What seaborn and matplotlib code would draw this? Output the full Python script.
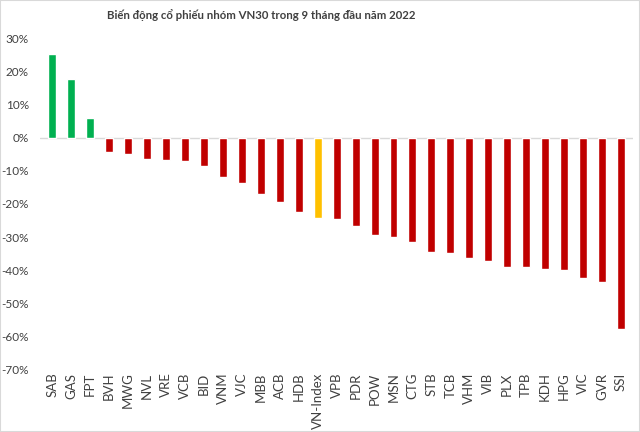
import matplotlib
matplotlib.use("Agg")
import matplotlib.pyplot as plt
import seaborn as sns
import pandas as pd
from matplotlib.ticker import FuncFormatter

tickers = ["SAB", "GAS", "FPT", "BVH", "MWG", "NVL", "VRE", "VCB", "BID", "VNM",
           "VJC", "MBB", "ACB", "HDB", "VN-Index", "VPB", "PDR", "POW", "MSN", "CTG",
           "STB", "TCB", "VHM", "VIB", "PLX", "TPB", "KDH", "HPG", "VIC", "GVR", "SSI"]
changes = [25.3, 17.6, 6.0, -4.3, -5.1, -6.6, -6.9, -7.0, -8.6, -11.9,
           -13.6, -16.9, -19.5, -22.3, -24.3, -24.4, -26.8, -29.4, -29.9, -31.6,
           -34.6, -34.9, -36.4, -37.3, -38.9, -39.1, -39.6, -39.8, -42.2, -43.5, -57.7]
groups = ["up" if c > 0 else "down" for c in changes]
groups[tickers.index("VN-Index")] = "index"
palette = {"up": "#00B050", "down": "#C00000", "index": "#FFC000"}
title = "Biến động cổ phiếu nhóm VN30 trong 9 tháng đầu năm 2022"

df = pd.DataFrame({"ticker": tickers, "change": changes, "group": groups})

sns.set_theme(style="white")
plt.rcParams["font.family"] = ["Lato", "DejaVu Sans"]

fig = plt.figure(figsize=(6.4, 4.32), dpi=100)
ax = fig.add_axes([0.0625, 0.144, 0.927, 0.768])
sns.barplot(data=df, x="ticker", y="change", hue="group", palette=palette,
            dodge=False, legend=False, width=0.42, ax=ax, saturation=1)

ax.set_ylim(-70, 30)
ax.set_xlim(-0.65, len(tickers) - 0.35)
ax.set_yticks(range(-70, 31, 10))
ax.yaxis.set_major_formatter(FuncFormatter(lambda v, p: f"{int(v)}%"))
ax.axhline(0, color="#D9D9D9", lw=1, zorder=0)
for s in ax.spines.values():
    s.set_visible(False)
ax.set_xlabel("")
ax.set_ylabel("")
ax.tick_params(axis="y", labelsize=8.5, colors="#404040", length=0, pad=8)
ax.tick_params(axis="x", labelsize=9.5, colors="#404040", length=0, rotation=90, pad=2)
ax.grid(False)

fig.text(261 / 640, 1 - 15 / 432, title, ha="center", va="center",
         fontsize=8.2, color="#404040", fontweight="bold")

fig.patches.append(plt.Rectangle((0, 0), 1, 1, transform=fig.transFigure,
                                 fill=False, edgecolor="#D9D9D9", lw=1.5))
fig.savefig("out.png", dpi=100)
